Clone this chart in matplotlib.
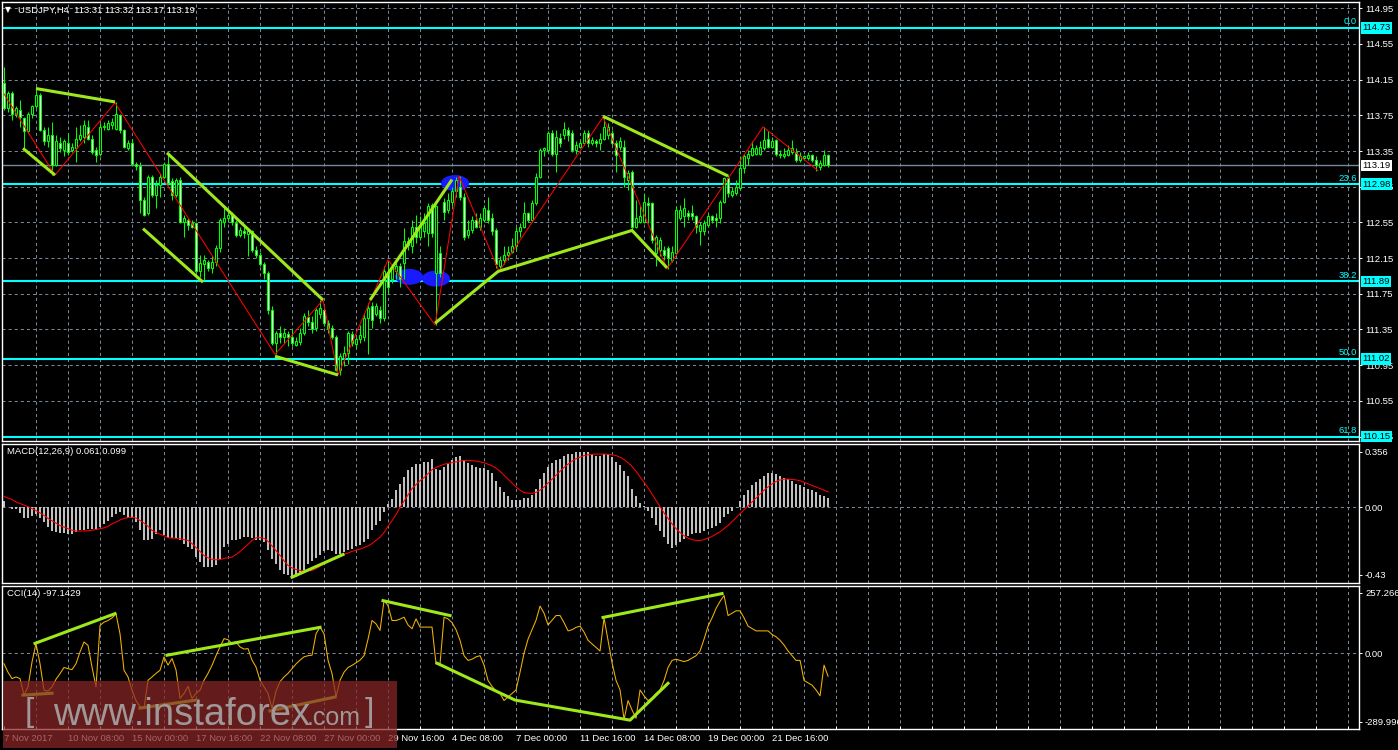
import numpy as np
import matplotlib
matplotlib.use("Agg")
import matplotlib.pyplot as plt
from matplotlib.patches import Ellipse, Rectangle
from matplotlib.transforms import blended_transform_factory

plt.rcParams['font.family'] = ['Liberation Sans', 'DejaVu Sans']
plt.rcParams['lines.scale_dashes'] = False

# ---------------- data (USDJPY H4) ----------------
opens = [
    114.11, 113.83, 114.00, 113.77, 113.81, 113.72, 113.57, 113.77, 113.85, 113.98,
    113.59, 113.46, 113.53, 113.19, 113.44, 113.36, 113.44, 113.36, 113.38, 113.49,
    113.51, 113.62, 113.49, 113.36, 113.32, 113.62, 113.60, 113.64, 113.60, 113.75,
    113.59, 113.38, 113.44, 113.20, 113.18, 112.80, 112.65, 113.06, 112.86, 112.97,
    113.06, 113.21, 113.01, 112.86, 113.03, 112.56, 112.58, 112.54, 112.54, 112.00,
    112.08, 112.11, 112.04, 112.11, 112.26, 112.56, 112.60, 112.63, 112.54, 112.41,
    112.45, 112.42, 112.45, 112.24, 112.19, 112.08, 111.98, 111.57, 111.20, 111.31,
    111.26, 111.30, 111.27, 111.18, 111.21, 111.31, 111.49, 111.43, 111.37, 111.52,
    111.57, 111.42, 111.37, 111.27, 110.90, 111.03, 111.09, 111.30, 111.19, 111.24,
    111.26, 111.48, 111.61, 111.52, 111.57, 111.48, 111.98, 111.91, 112.01, 112.06,
    112.09, 112.30, 112.28, 112.50, 112.39, 112.45, 112.43, 112.74, 111.98, 112.21,
    112.78, 112.69, 112.78, 112.90, 112.95, 112.84, 112.41, 112.47, 112.58, 112.50,
    112.58, 112.69, 112.60, 112.47, 112.06, 112.13, 112.19, 112.22, 112.28, 112.45,
    112.50, 112.65, 112.58, 112.77, 113.06, 113.36, 113.36, 113.55, 113.32, 113.50,
    113.53, 113.59, 113.55, 113.36, 113.40, 113.44, 113.55, 113.44, 113.46, 113.44,
    113.49, 113.53, 113.55, 113.44, 113.40, 113.40, 113.03, 113.12, 112.50, 112.56,
    112.56, 112.77, 112.77, 112.21, 112.24, 112.24, 112.26, 112.13, 112.21, 112.60,
    112.62, 112.65, 112.65, 112.62, 112.45, 112.45, 112.52, 112.62, 112.60, 112.60,
    112.78, 113.05, 112.86, 112.88, 112.93, 113.16, 113.27, 113.31, 113.32, 113.32,
    113.38, 113.49, 113.40, 113.47, 113.32, 113.29, 113.31, 113.34, 113.34, 113.25,
    113.27, 113.27, 113.31, 113.25, 113.17, 113.19, 113.31,
]
highs = [
    114.29, 114.02, 114.02, 113.85, 113.92, 113.73, 113.79, 113.87, 114.07, 114.00,
    113.62, 113.62, 113.68, 113.53, 113.51, 113.49, 113.55, 113.44, 113.62, 113.64,
    113.70, 113.70, 113.53, 113.40, 113.66, 113.68, 113.70, 113.72, 113.90, 113.77,
    113.60, 113.47, 113.49, 113.23, 113.23, 112.84, 113.08, 113.08, 113.03, 113.10,
    113.23, 113.32, 113.05, 113.05, 113.06, 112.63, 112.60, 112.58, 112.56, 112.19,
    112.19, 112.13, 112.17, 112.30, 112.60, 112.71, 112.67, 112.67, 112.58, 112.50,
    112.50, 112.49, 112.47, 112.28, 112.22, 112.11, 112.00, 111.61, 111.33, 111.39,
    111.37, 111.33, 111.35, 111.27, 111.37, 111.53, 111.57, 111.50, 111.59, 111.68,
    111.61, 111.46, 111.40, 111.29, 111.09, 111.16, 111.33, 111.33, 111.27, 111.40,
    111.53, 111.65, 111.66, 111.65, 111.61, 112.06, 112.13, 112.08, 112.11, 112.09,
    112.49, 112.39, 112.58, 112.63, 112.62, 112.65, 112.77, 112.77, 112.75, 112.28,
    112.82, 112.88, 112.95, 113.06, 113.07, 112.88, 112.58, 112.62, 112.65, 112.65,
    112.75, 112.84, 112.65, 112.49, 112.17, 112.28, 112.28, 112.37, 112.50, 112.54,
    112.78, 112.67, 112.80, 113.10, 113.38, 113.40, 113.57, 113.59, 113.59, 113.55,
    113.68, 113.62, 113.59, 113.46, 113.47, 113.59, 113.59, 113.51, 113.49, 113.55,
    113.73, 113.66, 113.59, 113.47, 113.51, 113.47, 113.14, 113.14, 112.80, 112.73,
    112.88, 112.84, 112.78, 112.41, 112.39, 112.28, 112.28, 112.28, 112.73, 112.75,
    112.82, 112.69, 112.75, 112.63, 112.56, 112.58, 112.65, 112.63, 112.65, 112.80,
    113.06, 113.08, 112.95, 113.03, 113.29, 113.32, 113.36, 113.46, 113.42, 113.46,
    113.62, 113.57, 113.51, 113.49, 113.36, 113.38, 113.42, 113.47, 113.38, 113.34,
    113.31, 113.34, 113.32, 113.29, 113.25, 113.36, 113.32,
]
lows = [
    113.81, 113.79, 113.70, 113.73, 113.62, 113.38, 113.55, 113.72, 113.83, 113.57,
    113.42, 113.40, 113.08, 113.18, 113.34, 113.29, 113.31, 113.34, 113.23, 113.46,
    113.44, 113.47, 113.32, 113.23, 113.29, 113.59, 113.59, 113.60, 113.59, 113.55,
    113.38, 113.36, 113.19, 113.14, 112.65, 112.62, 112.63, 112.84, 112.71, 112.84,
    113.05, 112.97, 112.80, 112.84, 112.54, 112.39, 112.47, 112.49, 111.98, 111.94,
    111.90, 112.00, 111.98, 112.06, 112.22, 112.50, 112.56, 112.52, 112.39, 112.39,
    112.37, 112.17, 112.22, 112.15, 112.06, 111.91, 111.52, 111.18, 111.07, 111.20,
    111.20, 111.16, 111.16, 111.16, 111.18, 111.29, 111.39, 111.31, 111.33, 111.48,
    111.39, 111.31, 111.24, 110.88, 110.84, 110.94, 110.96, 111.16, 111.14, 111.20,
    111.22, 111.07, 111.37, 111.50, 111.42, 111.44, 111.76, 111.87, 111.91, 111.83,
    111.91, 112.24, 112.21, 112.32, 112.35, 112.39, 112.28, 112.39, 111.40, 111.94,
    112.58, 112.65, 112.73, 112.84, 112.80, 112.35, 112.37, 112.43, 112.49, 112.47,
    112.56, 112.54, 112.41, 112.04, 112.00, 112.08, 112.13, 112.21, 112.24, 112.39,
    112.49, 112.56, 112.56, 112.75, 113.05, 113.29, 113.34, 113.29, 113.12, 113.40,
    113.49, 113.46, 113.34, 113.32, 113.38, 113.42, 113.40, 113.42, 113.40, 113.36,
    113.47, 113.49, 113.42, 113.12, 113.36, 112.95, 112.91, 112.47, 112.49, 112.54,
    112.54, 112.54, 112.32, 112.06, 112.17, 112.13, 112.03, 112.11, 112.19, 112.58,
    112.50, 112.58, 112.58, 112.43, 112.30, 112.41, 112.50, 112.54, 112.50, 112.54,
    112.77, 112.84, 112.84, 112.86, 112.91, 113.10, 113.19, 113.29, 113.31, 113.31,
    113.36, 113.38, 113.38, 113.29, 113.27, 113.27, 113.29, 113.32, 113.23, 113.23,
    113.25, 113.25, 113.23, 113.13, 113.14, 113.18, 113.17,
]
closes = [
    113.83, 114.00, 113.77, 113.83, 113.73, 113.57, 113.77, 113.85, 113.98, 113.59,
    113.46, 113.53, 113.19, 113.46, 113.38, 113.46, 113.34, 113.40, 113.49, 113.53,
    113.64, 113.49, 113.34, 113.31, 113.62, 113.63, 113.66, 113.68, 113.77, 113.59,
    113.40, 113.44, 113.21, 113.18, 112.80, 112.63, 113.06, 112.86, 112.97, 113.06,
    113.21, 112.99, 112.86, 113.03, 112.56, 112.60, 112.52, 112.50, 112.00, 112.09,
    112.13, 112.04, 112.11, 112.26, 112.58, 112.60, 112.63, 112.56, 112.41, 112.47,
    112.43, 112.45, 112.24, 112.19, 112.08, 111.98, 111.57, 111.20, 111.31, 111.26,
    111.31, 111.27, 111.20, 111.22, 111.31, 111.50, 111.43, 111.35, 111.57, 111.59,
    111.42, 111.37, 111.27, 110.90, 111.05, 111.09, 111.31, 111.20, 111.24, 111.29,
    111.48, 111.59, 111.46, 111.61, 111.48, 112.00, 111.83, 112.04, 112.06, 111.91,
    112.34, 112.34, 112.50, 112.39, 112.52, 112.54, 112.73, 112.43, 112.73, 111.98,
    112.67, 112.80, 112.90, 113.03, 112.84, 112.39, 112.47, 112.58, 112.50, 112.60,
    112.71, 112.58, 112.45, 112.08, 112.13, 112.19, 112.22, 112.28, 112.45, 112.50,
    112.65, 112.58, 112.77, 113.06, 113.36, 113.38, 113.55, 113.32, 113.51, 113.44,
    113.60, 113.53, 113.36, 113.42, 113.44, 113.55, 113.44, 113.47, 113.44, 113.49,
    113.62, 113.62, 113.44, 113.31, 113.46, 113.06, 113.10, 112.50, 112.60, 112.62,
    112.78, 112.75, 112.35, 112.39, 112.35, 112.19, 112.15, 112.22, 112.69, 112.69,
    112.71, 112.62, 112.62, 112.50, 112.52, 112.54, 112.62, 112.58, 112.58, 112.78,
    113.05, 112.88, 112.90, 112.95, 113.16, 113.29, 113.32, 113.38, 113.38, 113.40,
    113.47, 113.40, 113.46, 113.32, 113.31, 113.32, 113.36, 113.38, 113.25, 113.29,
    113.29, 113.31, 113.25, 113.19, 113.22, 113.31, 113.19,
]

macd_main = [
    0.038, 0.002, -0.008, -0.008, -0.036, -0.066, -0.066, -0.057, -0.040, -0.066,
    -0.093, -0.125, -0.151, -0.159, -0.163, -0.163, -0.172, -0.168, -0.157, -0.142,
    -0.142, -0.136, -0.136, -0.142, -0.125, -0.104, -0.087, -0.062, -0.040, -0.030,
    -0.051, -0.066, -0.066, -0.093, -0.146, -0.206, -0.206, -0.200, -0.168, -0.146,
    -0.178, -0.193, -0.193, -0.193, -0.210, -0.231, -0.253, -0.263, -0.316, -0.348,
    -0.380, -0.380, -0.380, -0.369, -0.327, -0.253, -0.231, -0.206, -0.206, -0.200,
    -0.189, -0.189, -0.193, -0.206, -0.210, -0.221, -0.274, -0.327, -0.359, -0.401,
    -0.423, -0.433, -0.444, -0.444, -0.412, -0.401, -0.359, -0.338, -0.323, -0.306,
    -0.278, -0.270, -0.278, -0.295, -0.295, -0.285, -0.274, -0.263, -0.248, -0.242,
    -0.221, -0.200, -0.146, -0.115, -0.087, -0.030, 0.023, 0.055, 0.108, 0.151,
    0.193, 0.236, 0.257, 0.278, 0.278, 0.289, 0.289, 0.310, 0.246, 0.236,
    0.257, 0.278, 0.300, 0.320, 0.330, 0.300, 0.280, 0.270, 0.260, 0.250,
    0.250, 0.240, 0.220, 0.170, 0.130, 0.100, 0.070, 0.050, 0.050, 0.050,
    0.060, 0.060, 0.080, 0.120, 0.180, 0.220, 0.260, 0.280, 0.300, 0.310,
    0.330, 0.340, 0.340, 0.350, 0.350, 0.356, 0.350, 0.340, 0.330, 0.330,
    0.340, 0.340, 0.320, 0.290, 0.270, 0.230, 0.200, 0.120, 0.070, 0.030,
    0.010, -0.020, -0.070, -0.110, -0.150, -0.190, -0.230, -0.260, -0.240, -0.220,
    -0.200, -0.180, -0.170, -0.160, -0.160, -0.150, -0.140, -0.130, -0.120, -0.100,
    -0.060, -0.040, -0.020, 0.000, 0.040, 0.080, 0.110, 0.140, 0.160, 0.180,
    0.200, 0.220, 0.220, 0.210, 0.200, 0.190, 0.180, 0.170, 0.150, 0.140,
    0.130, 0.120, 0.110, 0.100, 0.080, 0.070, 0.061,
]
macd_signal = [
    0.070, 0.060, 0.050, 0.035, 0.025, 0.015, 0.005, -0.008, -0.020, -0.035,
    -0.050, -0.070, -0.085, -0.100, -0.115, -0.125, -0.135, -0.145, -0.150, -0.151,
    -0.150, -0.148, -0.145, -0.140, -0.136, -0.130, -0.120, -0.105, -0.093, -0.080,
    -0.070, -0.065, -0.062, -0.068, -0.083, -0.100, -0.120, -0.146, -0.160, -0.170,
    -0.180, -0.193, -0.195, -0.197, -0.200, -0.205, -0.210, -0.230, -0.255, -0.280,
    -0.306, -0.320, -0.330, -0.333, -0.332, -0.325, -0.320, -0.316, -0.300, -0.280,
    -0.258, -0.235, -0.210, -0.193, -0.192, -0.197, -0.215, -0.245, -0.274, -0.305,
    -0.340, -0.369, -0.385, -0.395, -0.401, -0.403, -0.403, -0.401, -0.390, -0.375,
    -0.355, -0.340, -0.325, -0.315, -0.306, -0.298, -0.290, -0.280, -0.272, -0.265,
    -0.256, -0.245, -0.230, -0.210, -0.189, -0.160, -0.120, -0.085, -0.045, 0.000,
    0.040, 0.080, 0.120, 0.145, 0.170, 0.190, 0.215, 0.240, 0.255, 0.265,
    0.275, 0.280, 0.285, 0.290, 0.295, 0.298, 0.300, 0.298, 0.295, 0.290,
    0.285, 0.275, 0.265, 0.250, 0.230, 0.205, 0.180, 0.155, 0.130, 0.110,
    0.095, 0.090, 0.090, 0.095, 0.110, 0.130, 0.155, 0.180, 0.205, 0.230,
    0.255, 0.275, 0.295, 0.310, 0.320, 0.330, 0.335, 0.338, 0.340, 0.340,
    0.340, 0.338, 0.335, 0.330, 0.320, 0.305, 0.285, 0.260, 0.230, 0.195,
    0.160, 0.125, 0.085, 0.045, 0.005, -0.035, -0.070, -0.105, -0.135, -0.160,
    -0.180, -0.195, -0.205, -0.210, -0.210, -0.205, -0.195, -0.185, -0.170, -0.155,
    -0.135, -0.115, -0.090, -0.065, -0.040, -0.015, 0.010, 0.035, 0.060, 0.085,
    0.110, 0.130, 0.150, 0.165, 0.175, 0.180, 0.180, 0.178, 0.175, 0.170,
    0.160, 0.150, 0.140, 0.130, 0.120, 0.110, 0.099,
]
cci_values = [
    -44, -80, -107, -100, -107, -177, -142, -37, 41, -44,
    -156, -160, -142, -110, -86, -60, -65, -69, -44, 6,
    48, 34, -58, -142, 118, 132, 139, 150, 167, 83,
    -72, -100, -156, -200, -226, -233, -114, -100, -85, -72,
    -15, -50, -22, -70, -191, -170, -140, -191, -170, -156,
    -114, -85, -51, -10, 27, 62, 58, 41, 48, 27,
    18, 20, -29, -58, -114, -142, -170, -233, -160, -120,
    -100, -85, -65, -45, -29, -15, -10, -8, 83, 111,
    83, -29, -86, -184, -114, -80, -60, -51, -40, -29,
    -10, 60, 139, 125, 97, 223, 202, 139, 139, 145,
    153, 120, 104, 146, 111, 111, 111, 111, -44, -44,
    153, 146, 130, 100, 55, -10, -30, -25, -15, -10,
    -50, -115, -140, -160, -170, -200, -185, -170, -155, -80,
    0, 60, 100, 140, 200, 170, 120, 140, 160, 160,
    130, 95, 100, 110, 115, 90, 55, 40, 25, 10,
    150, 55, -40, -115, -155, -280, -200, -240, -275, -155,
    -180, -200, -190, -170, -155, -115, -60, -30, -25, -30,
    -35, -30, -20, -10, 10, 60, 115, 150, 190, 220,
    245, 160, 170, 180, 180, 150, 115, 105, 95, 95,
    95, 95, 80, 70, 55, 35, 10, -10, -30, -30,
    -115, -125, -135, -155, -180, -50, -97.1429,
]

label_bars = [0, 16, 32, 48, 64, 80, 96, 112, 128, 144, 160, 176, 192]
date_labels = ["7 Nov 2017", "10 Nov 08:00", "15 Nov 00:00", "17 Nov 16:00",
               "22 Nov 08:00", "27 Nov 00:00", "29 Nov 16:00", "4 Dec 08:00",
               "7 Dec 00:00", "11 Dec 16:00", "14 Dec 08:00", "19 Dec 00:00",
               "21 Dec 16:00"]
price_ticks = [114.95, 114.55, 114.15, 113.75, 113.35, 112.95, 112.55,
               112.15, 111.75, 111.35, 110.95, 110.55, 110.15]
fib_levels = [114.73, 112.98, 111.89, 111.02, 110.15]
fib_names = ["0.0", "23.6", "38.2", "50.0", "61.8"]
last_price = 113.19

# zigzag pivots (bar, price)
zz_bars = [0, 12.75, 27.75, 67.75, 79.75, 83.5, 96, 107.75, 113.75, 123.75,
           149.75, 165.75, 189.75, 203.5]
zz_prices = [113.99, 113.08, 113.89, 111.07, 111.68, 110.84, 112.13, 111.40,
             113.07, 112.00, 113.73, 112.03, 113.62, 113.13]

# hand drawn trend lines: (bars, values)
price_lines = [
    ([8, 27.75], [114.05, 113.90]),
    ([4.75, 12.75], [113.38, 113.08]),
    ([40.75, 79.75], [113.33, 111.68]),
    ([34.75, 49.75], [112.48, 111.88]),
    ([67.75, 83.5], [111.05, 110.84]),
    ([91.5, 112], [111.68, 113.03]),
    ([107.75, 123.5, 157, 165.75], [111.42, 112.00, 112.46, 112.04]),
    ([149.75, 181], [113.74, 113.07]),
]
macd_lines = [([72, 84.75], [-0.444, -0.30])]
cci_lines = [
    ([7.75, 27.75], [42, 168]),
    ([4.75, 12], [-177, -169]),
    ([40.75, 79], [-8, 110]),
    ([34, 48], [-232, -198]),
    ([66.5, 82.75], [-244, -185]),
    ([94.75, 111.5], [223, 160]),
    ([108.25, 127.75, 156.5, 166], [-42, -198, -283, -127]),
    ([149.75, 179.5], [152, 253]),
]
# blue highlight marks (bar, price)
blob_bars = [112.75, 101.25, 108.0]
blob_prices = [112.99, 111.94, 111.92]

# ---------------- style ----------------
BG = "black"
GRID = "#778899"
CANDLE = "#00ff00"
TREND = "#9ee81c"
FIB = "#00ffff"
FS = 6.8
W, H = 1398, 750

fig = plt.figure(figsize=(W / 100, H / 100), dpi=100, facecolor=BG)


def px_axes(top, bottom, left=2, right=1358.5):
    return fig.add_axes([left / W, 1 - bottom / H, (right - left) / W, (bottom - top) / H])


def style_panel(a, y0, y1):
    a.set_facecolor(BG)
    a.set_xlim(-0.5, 338.6)
    a.set_ylim(y0, y1)
    for s in a.spines.values():
        s.set_color("white")
        s.set_linewidth(1.0)
    a.yaxis.tick_right()
    a.tick_params(axis="y", colors="white", labelsize=FS, length=2.2, width=0.7, pad=2.5)
    a.tick_params(axis="x", bottom=False, labelbottom=False)
    for g in range(8, 339, 8):
        a.axvline(g, color=GRID, lw=0.72, ls=(0, (2.2, 2.2)), zorder=0)


ax = px_axes(2, 441)
ax_macd = px_axes(443.5, 583.3)
ax_cci = px_axes(585.6, 729)

style_panel(ax, 110.10, 115.02)
style_panel(ax_macd, -0.483, 0.407)
style_panel(ax_cci, -320.5, 286.8)

x = np.arange(len(closes))
o = np.array(opens)
c = np.array(closes)

# ---- main price panel ----
for p in price_ticks:
    ax.axhline(p, color=GRID, lw=0.72, ls=(0, (2.2, 2.2)), zorder=0)
ax.set_yticks(price_ticks)
ax.set_yticklabels([f"{p:.2f}" for p in price_ticks])

ax.axhline(last_price, color=GRID, lw=1.0, zorder=1)
for lvl in fib_levels:
    ax.axhline(lvl, color=FIB, lw=1.5, zorder=2)

for bx, by in zip(blob_bars, blob_prices):
    ax.add_patch(Ellipse((bx, by), 7.0, 0.18, color="#1a1aff", zorder=2.5, lw=0))

ax.vlines(x, lows, highs, color=CANDLE, lw=0.75, zorder=3)
body_lo = np.minimum(o, c)
body_h = np.maximum(np.abs(c - o), 0.008)
fills = ["black" if cc >= oo else "white" for oo, cc in zip(opens, closes)]
ax.bar(x, body_h, bottom=body_lo, width=0.62, color=fills, edgecolor=CANDLE,
       linewidth=0.75, zorder=4)

ax.plot(zz_bars, zz_prices, color="red", lw=0.75, zorder=5)
for bars, vals in price_lines:
    ax.plot(bars, vals, color=TREND, lw=2.2, zorder=6, solid_capstyle="butt")

blend = blended_transform_factory(ax.transAxes, ax.transData)
for lvl, name in zip(fib_levels, fib_names):
    ax.annotate(name, xy=(1, lvl), xycoords=blend, xytext=(-1.5, 1.5),
                textcoords="offset pixels", ha="right", va="bottom",
                color=FIB, fontsize=FS, zorder=7)
    ax.annotate(f"{lvl:.2f}", xy=(1, lvl), xycoords=blend, xytext=(4, 0),
                textcoords="offset pixels", ha="left", va="center",
                color="black", fontsize=FS, annotation_clip=False, zorder=8,
                bbox=dict(boxstyle="square,pad=0.12", fc=FIB, ec="none"))
ax.annotate(f"{last_price:.2f}", xy=(1, last_price), xycoords=blend, xytext=(4, 0),
            textcoords="offset pixels", ha="left", va="center", color="black",
            fontsize=FS, annotation_clip=False, zorder=8,
            bbox=dict(boxstyle="square,pad=0.12", fc="white", ec="none"))

# ---- MACD panel ----
ax_macd.axhline(0, color=GRID, lw=0.72, ls=(0, (2.2, 2.2)), zorder=0)
ax_macd.bar(x, macd_main, width=0.58, color="#c0c0c0", zorder=2)
ax_macd.plot(x, macd_signal, color="red", lw=0.75, zorder=3)
for bars, vals in macd_lines:
    ax_macd.plot(bars, vals, color=TREND, lw=2.2, zorder=4)
ax_macd.set_yticks([0.356, 0.0, -0.43])
ax_macd.set_yticklabels(["0.356", "0.00", "-0.43"])

# ---- CCI panel ----
ax_cci.axhline(0, color=GRID, lw=0.72, ls=(0, (2.2, 2.2)), zorder=0)
ax_cci.plot(x, cci_values, color="#f5b400", lw=0.75, zorder=3)
for bars, vals in cci_lines:
    ax_cci.plot(bars, vals, color=TREND, lw=2.2, zorder=4)
ax_cci.set_yticks([257.2661, 0.0, -289.996])
ax_cci.set_yticklabels(["257.2661", "0.00", "-289.996"])
ax_cci.set_xticks(label_bars)
ax_cci.set_xticklabels(date_labels, ha="left")
ax_cci.set_xticks(np.arange(8, 339, 8), minor=True)
ax_cci.tick_params(axis="x", which="both", bottom=True, labelbottom=True,
                   direction="in", length=2.5, width=0.7, color="white",
                   labelcolor="white", labelsize=FS, pad=3.5)

# ---- header texts ----
fig.text(5 / W, 1 - 10 / H, "\u25BC", color="white", fontsize=5.5,
         family="DejaVu Sans", va="center", ha="left")
fig.text(18 / W, 1 - 10 / H, "USDJPY,H4  113.31 113.32 113.17 113.19",
         color="white", fontsize=FS, va="center", ha="left")
fig.text(7 / W, 1 - 452 / H, "MACD(12,26,9) 0.061 0.099", color="white",
         fontsize=FS, va="center", ha="left")
fig.text(7 / W, 1 - 594 / H, "CCI(14) -97.1429", color="white",
         fontsize=FS, va="center", ha="left")

# ---- watermark ----
fig.add_artist(Rectangle((3 / W, 1 - 748 / H), 394 / W, 67 / H,
                         transform=fig.transFigure, facecolor=(0.55, 0.15, 0.15),
                         edgecolor="none", alpha=0.72, zorder=10))
wm = "#a09898"
fig.text(25 / W, 1 - 721 / H, "[", color=wm, fontsize=24, va="baseline", zorder=11)
fig.text(53 / W, 1 - 725 / H, "www.instaforex", color=wm, fontsize=27.5,
         va="baseline", zorder=11)
fig.text(307 / W, 1 - 725 / H, ".com", color=wm, fontsize=18, va="baseline", zorder=11)
fig.text(365 / W, 1 - 721 / H, "]", color=wm, fontsize=24, va="baseline", zorder=11)

fig.savefig("out.png", dpi=100, facecolor=BG)
